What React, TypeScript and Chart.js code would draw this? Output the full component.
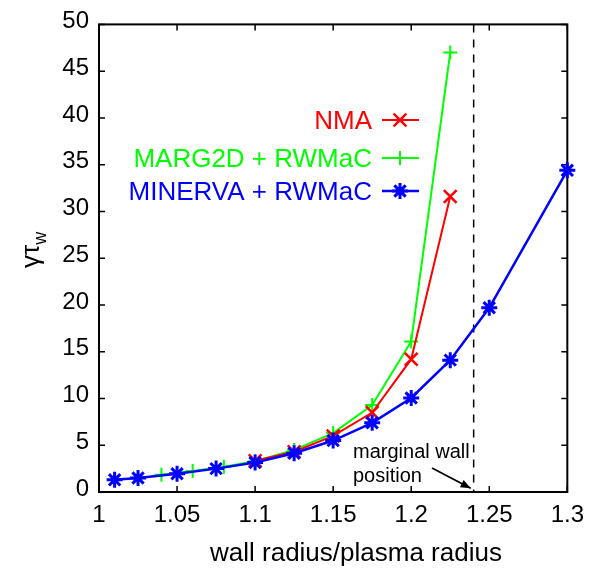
import React, { useEffect, useRef } from 'react';
import { Chart, registerables } from 'chart.js';

Chart.register(...registerables);

// ---- data ----
const seriesLabels = ['NMA', 'MARG2D + RWMaC', 'MINERVA + RWMaC'];

const nmaX = [1.1, 1.125, 1.15, 1.175, 1.2, 1.225];
const nmaY = [3.35, 4.3, 6.0, 8.5, 14.2, 31.6];

const margX = [1.04, 1.06, 1.08, 1.1, 1.125, 1.15, 1.175, 1.2, 1.225];
const margY = [1.85, 2.25, 2.7, 3.3, 4.5, 6.3, 9.3, 16.1, 47.0];

const minervaX = [1.01, 1.025, 1.05, 1.075, 1.1, 1.125, 1.15, 1.175, 1.2, 1.225, 1.25, 1.3];
const minervaY = [1.3, 1.5, 1.95, 2.5, 3.15, 4.15, 5.5, 7.4, 10.05, 14.1, 19.7, 34.4];

const xTickValues = [1, 1.05, 1.1, 1.15, 1.2, 1.25, 1.3];
const xTickLabels = ['1', '1.05', '1.1', '1.15', '1.2', '1.25', '1.3'];
const yTickValues = [0, 5, 10, 15, 20, 25, 30, 35, 40, 45, 50];
const yTickLabels = ['0', '5', '10', '15', '20', '25', '30', '35', '40', '45', '50'];

const marginalWall = 1.24;
const annotationLines = ['marginal wall', 'position'];
const xTitle = 'wall radius/plasma radius';

const FONT = '"Liberation Sans", Arial, Helvetica, sans-serif';

const toPoints = (xs: number[], ys: number[]) => xs.map((x, i) => ({ x, y: ys[i] }));

function drawMarker(ctx: CanvasRenderingContext2D, style: string, x: number, y: number, r: number) {
  ctx.beginPath();
  if (style === 'cross' || style === 'star') {
    ctx.moveTo(x - r, y); ctx.lineTo(x + r, y);
    ctx.moveTo(x, y - r); ctx.lineTo(x, y + r);
  }
  if (style === 'crossRot' || style === 'star') {
    const o = r * 0.707;
    ctx.moveTo(x - o, y - o); ctx.lineTo(x + o, y + o);
    ctx.moveTo(x - o, y + o); ctx.lineTo(x + o, y - o);
  }
  ctx.stroke();
}

const decorPlugin = {
  id: 'decor',
  beforeDatasetsDraw(chart: any) {
    const { ctx, chartArea: a, scales } = chart;
    const xs = scales.x, ys = scales.y;
    ctx.save();
    const xw = xs.getPixelForValue(marginalWall);
    ctx.strokeStyle = '#000';
    ctx.lineWidth = 1.5;
    ctx.setLineDash([8, 7]);
    ctx.beginPath();
    ctx.moveTo(xw, a.top);
    ctx.lineTo(xw, a.bottom);
    ctx.stroke();
    ctx.setLineDash([]);
    ctx.lineWidth = 2;
    ctx.strokeRect(a.left, a.top, a.right - a.left, a.bottom - a.top);
    const tl = 6;
    ctx.lineWidth = 1.5;
    ctx.beginPath();
    xTickValues.forEach((v) => {
      const px = xs.getPixelForValue(v);
      ctx.moveTo(px, a.bottom); ctx.lineTo(px, a.bottom - tl);
      ctx.moveTo(px, a.top); ctx.lineTo(px, a.top + tl);
    });
    yTickValues.forEach((v) => {
      const py = ys.getPixelForValue(v);
      ctx.moveTo(a.left, py); ctx.lineTo(a.left + tl, py);
      ctx.moveTo(a.right, py); ctx.lineTo(a.right - tl, py);
    });
    ctx.stroke();
    ctx.restore();
  },
  afterDraw(chart: any) {
    const { ctx, scales } = chart;
    const xs = scales.x, ys = scales.y;
    ctx.save();
    ctx.fillStyle = '#000';
    ctx.font = `20px ${FONT}`;
    ctx.textAlign = 'left';
    ctx.textBaseline = 'alphabetic';
    ctx.fillText(annotationLines[0], 353, 458);
    ctx.fillText(annotationLines[1], 353, 482);
    const tipX = xs.getPixelForValue(marginalWall) - 3;
    const tipY = ys.getPixelForValue(0.4);
    const sx = 432, sy = 468;
    ctx.strokeStyle = '#000';
    ctx.lineWidth = 1.8;
    ctx.beginPath();
    ctx.moveTo(sx, sy);
    ctx.lineTo(tipX, tipY);
    ctx.stroke();
    const ang = Math.atan2(tipY - sy, tipX - sx);
    const hl = 10, hw = 4;
    ctx.beginPath();
    ctx.moveTo(tipX, tipY);
    ctx.lineTo(tipX - hl * Math.cos(ang) + hw * Math.sin(ang), tipY - hl * Math.sin(ang) - hw * Math.cos(ang));
    ctx.lineTo(tipX - hl * Math.cos(ang) - hw * Math.sin(ang), tipY - hl * Math.sin(ang) + hw * Math.cos(ang));
    ctx.closePath();
    ctx.fill();

    const rows = [120, 158, 191];
    chart.data.datasets.forEach((ds: any, i: number) => {
      const cy = rows[i];
      ctx.fillStyle = ds.borderColor;
      ctx.strokeStyle = ds.borderColor;
      ctx.font = `26px ${FONT}`;
      ctx.textAlign = 'right';
      ctx.textBaseline = 'alphabetic';
      ctx.fillText(ds.label, 372, cy + 9);
      ctx.lineWidth = ds.borderWidth;
      ctx.beginPath();
      ctx.moveTo(382, cy);
      ctx.lineTo(419, cy);
      ctx.stroke();
      ctx.lineWidth = ds.pointBorderWidth;
      drawMarker(ctx, ds.pointStyle, 400, cy, ds.legendR);
    });

    ctx.fillStyle = '#000';
    ctx.font = `26px ${FONT}`;
    ctx.textAlign = 'left';
    ctx.textBaseline = 'alphabetic';
    ctx.fillText(xTitle, 210, 561);

    ctx.save();
    ctx.translate(39, 268);
    ctx.rotate(-Math.PI / 2);
    ctx.font = `26px ${FONT}`;
    ctx.fillText('γτ', 0, 0);
    const w = ctx.measureText('γτ').width;
    ctx.font = `18px ${FONT}`;
    ctx.fillText('w', w, 7);
    ctx.restore();

    ctx.restore();
  },
};

export default function App() {
  const ref = useRef<HTMLCanvasElement | null>(null);
  useEffect(() => {
    if (!ref.current) return;
    const chart = new Chart(ref.current, {
      type: 'line',
      data: {
        datasets: [
          {
            label: seriesLabels[0],
            data: toPoints(nmaX, nmaY),
            borderColor: '#ff0000',
            backgroundColor: '#ff0000',
            borderWidth: 2,
            pointStyle: 'crossRot',
            pointRadius: 9,
            pointHoverRadius: 9,
            pointBorderWidth: 2.5,
            legendR: 9,
            clip: false,
            order: 1,
          } as any,
          {
            label: seriesLabels[1],
            data: toPoints(margX, margY),
            borderColor: '#00ff00',
            backgroundColor: '#00ff00',
            borderWidth: 2,
            pointStyle: 'cross',
            pointRadius: 7,
            pointHoverRadius: 7,
            pointBorderWidth: 2,
            legendR: 7,
            clip: false,
            order: 2,
          } as any,
          {
            label: seriesLabels[2],
            data: toPoints(minervaX, minervaY),
            borderColor: '#0000ff',
            backgroundColor: '#0000ff',
            borderWidth: 2.5,
            pointStyle: 'star',
            pointRadius: 8,
            pointHoverRadius: 8,
            pointBorderWidth: 3,
            legendR: 8,
            clip: false,
            order: 0,
          } as any,
        ],
      },
      options: {
        animation: false,
        responsive: false,
        maintainAspectRatio: false,
        devicePixelRatio: 1,
        events: [],
        layout: { padding: { top: 23, right: 24, left: 0, bottom: 0 } },
        plugins: { legend: { display: false }, tooltip: { enabled: false }, title: { display: false } },
        elements: { line: { tension: 0, fill: false } },
        scales: {
          x: {
            type: 'linear',
            min: 1,
            max: 1.3,
            grid: { display: false, drawTicks: false },
            border: { display: false },
            afterFit: (s: any) => { s.height = 76; },
            afterBuildTicks: (s: any) => { s.ticks = xTickValues.map((v) => ({ value: v })); },
            ticks: {
              autoSkip: false,
              maxRotation: 0,
              padding: 9,
              color: '#000',
              font: { family: FONT, size: 24 },
              callback: (_v: any, i: number) => xTickLabels[i],
            },
          },
          y: {
            type: 'linear',
            min: 0,
            max: 50,
            grid: { display: false, drawTicks: false },
            border: { display: false },
            afterFit: (s: any) => { s.width = 99; },
            afterBuildTicks: (s: any) => { s.ticks = yTickValues.map((v) => ({ value: v })); },
            ticks: {
              autoSkip: false,
              padding: 10,
              labelOffset: -3,
              color: '#000',
              font: { family: FONT, size: 24 },
              callback: (_v: any, i: number) => yTickLabels[i],
            },
          },
        },
      } as any,
      plugins: [decorPlugin],
    });
    return () => chart.destroy();
  }, []);
  return (
    <div style={{ position: 'fixed', left: 0, top: 0, width: 593, height: 568, background: '#fff' }}>
      <canvas ref={ref} width={593} height={568} style={{ display: 'block', width: 593, height: 568 }} />
    </div>
  );
}
